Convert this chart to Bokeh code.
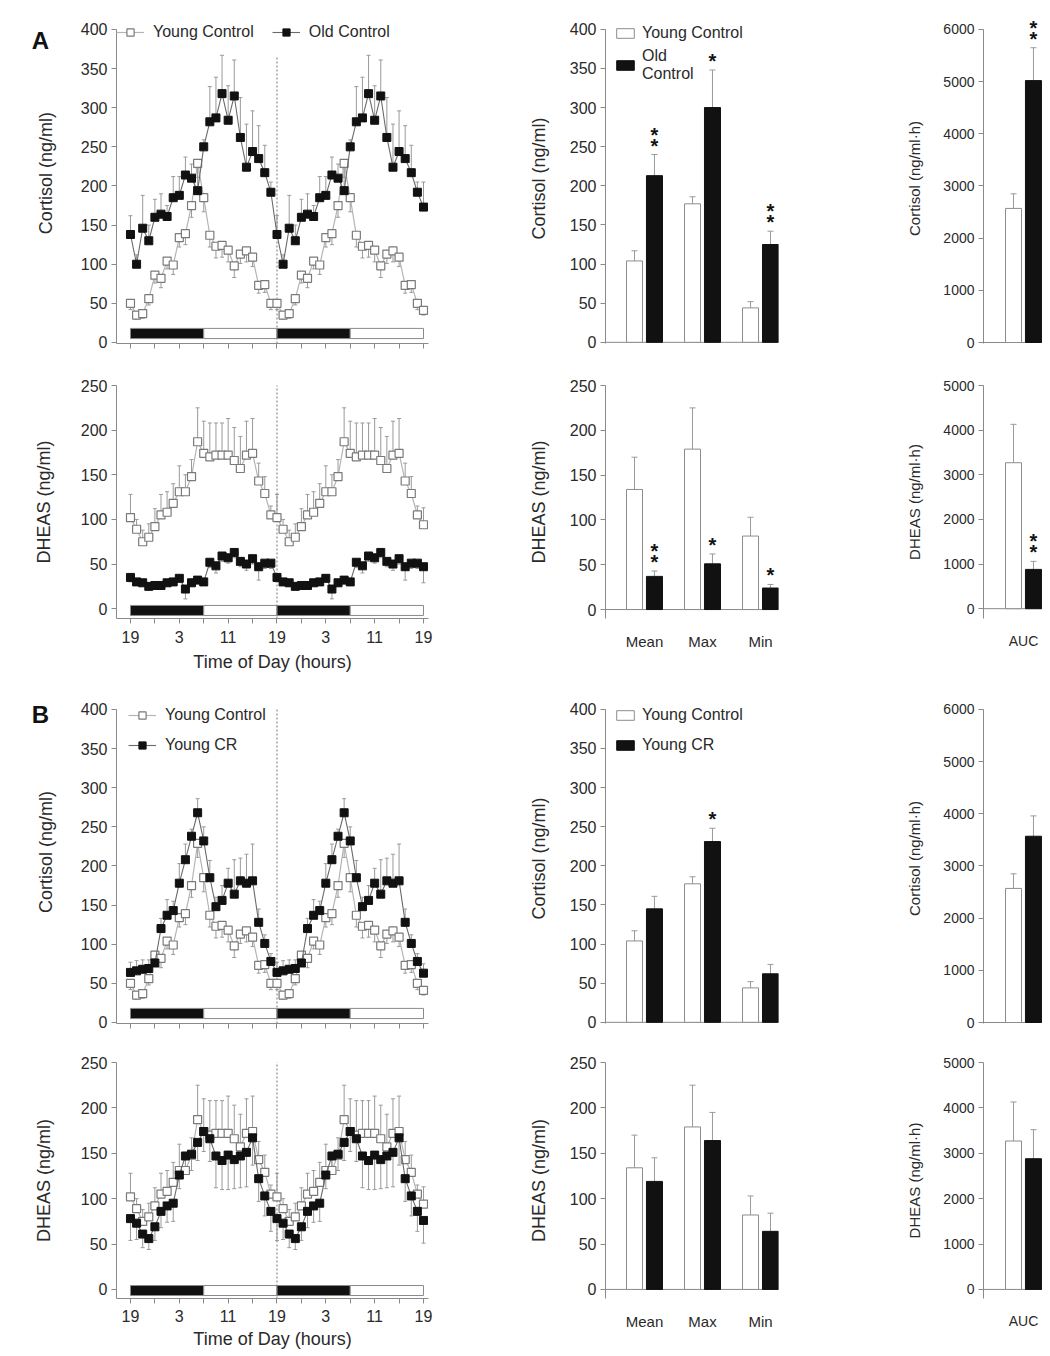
from math import pi
from bokeh.plotting import figure
from bokeh.models import (Range1d, FixedTicker, ColumnDataSource, Whisker, TeeHead,
                          Legend, LegendItem, Label)
from bokeh.core.properties import value
from bokeh.layouts import row, column
from bokeh.embed import file_html
from bokeh.resources import INLINE

# ---------------- data ----------------
# x-axis: hours after 19:00 over a double-plotted 48 h period
tick_hours = [0, 4, 8, 12, 16, 20, 24, 28, 32, 36, 40, 44, 48]
tick_names = ["19", "", "3", "", "11", "", "19", "", "3", "", "11", "", "19"]
light_phases = ["dark", "light", "dark", "light"]
phase_start = [0, 12, 24, 36]
phase_end = [12, 24, 36, 48]

# hourly values of one day (19:00 ... 18:00); the final 19:00 value of the second day listed apart
cort_young_day = [50, 35, 37, 56, 86, 82, 104, 99, 134, 139, 175, 229,
                  185, 137, 123, 124, 118, 98, 113, 117, 109, 73, 74, 50]
cort_young_end = 41
cort_young_sem_day = [8, 5, 6, 8, 10, 12, 10, 12, 12, 14, 15, 18,
                      18, 15, 15, 15, 15, 15, 12, 14, 12, 10, 10, 8]
cort_young_sem_end = 6

cort_old_day = [138, 100, 146, 130, 160, 164, 161, 185, 188, 214, 210, 194,
                250, 282, 287, 318, 284, 315, 262, 224, 244, 235, 217, 192]
cort_old_end = 173
cort_old_sem_day = [24, 12, 42, 20, 23, 26, 14, 27, 24, 23, 18, 28,
                    9, 45, 52, 49, 44, 46, 51, 55, 52, 42, 35, 13]
cort_old_sem_end = 32

cort_cr_day = [64, 66, 68, 69, 76, 120, 137, 143, 178, 208, 238, 268,
               232, 185, 148, 156, 178, 164, 181, 178, 181, 128, 101, 78]
cort_cr_end = 63
cort_cr_sem_day = [13, 13, 12, 11, 10, 13, 20, 12, 25, 20, 9, 18,
                   18, 22, 12, 19, 19, 44, 29, 37, 47, 17, 11, 10]
cort_cr_sem_end = 12

dheas_young_day = [102, 89, 75, 80, 92, 105, 108, 118, 131, 131, 148, 187,
                   174, 170, 172, 172, 172, 166, 157, 172, 174, 143, 129, 105]
dheas_young_end = 94
dheas_young_sem_day = [26, 11, 13, 15, 20, 23, 23, 22, 29, 19, 19, 38,
                       36, 38, 36, 36, 41, 37, 36, 38, 39, 20, 19, 10]
dheas_young_sem_end = 19

dheas_old_day = [35, 30, 29, 25, 26, 26, 29, 30, 34, 22, 29, 32,
                 30, 52, 48, 59, 57, 63, 53, 50, 56, 47, 51, 51]
dheas_old_end = 47
dheas_old_sem_day = [5, 4, 4, 3, 3, 3, 4, 4, 4, 11, 4, 4,
                     4, 6, 8, 6, 6, 6, 6, 7, 6, 15, 6, 6]
dheas_old_sem_end = 18

dheas_cr_day = [78, 73, 61, 56, 69, 86, 92, 95, 126, 147, 149, 162,
                174, 166, 147, 142, 148, 143, 147, 151, 167, 122, 103, 86]
dheas_cr_end = 76
dheas_cr_sem_day = [24, 18, 15, 12, 15, 18, 18, 20, 15, 18, 18, 20,
                    22, 25, 35, 32, 38, 32, 35, 38, 30, 25, 22, 22]
dheas_cr_sem_end = 25

# summary bars
bar_categories = ["Mean", "Max", "Min"]
cort_young_bars = [104, 177, 44]
cort_young_bars_err = [13, 9, 8]
cort_old_bars = [213, 300, 125]
cort_old_bars_err = [27, 48, 17]
cort_cr_bars = [145, 231, 62]
cort_cr_bars_err = [16, 17, 12]
dheas_young_bars = [134, 179, 82]
dheas_young_bars_err = [36, 46, 21]
dheas_old_bars = [37, 51, 24]
dheas_old_bars_err = [6, 11, 4]
dheas_cr_bars = [119, 164, 64]
dheas_cr_bars_err = [26, 31, 20]

auc_category = ["AUC"]
cort_auc_young = [2570]
cort_auc_young_err = [280]
cort_auc_old = [5020]
cort_auc_old_err = [630]
cort_auc_cr = [3570]
cort_auc_cr_err = [390]
dheas_auc_young = [3270]
dheas_auc_young_err = [860]
dheas_auc_old = [880]
dheas_auc_old_err = [180]
dheas_auc_cr = [2880]
dheas_auc_cr_err = [640]

# significance marks (number of asterisks per category)
cort_old_stars = [2, 1, 2]
dheas_old_stars = [2, 1, 1]
cort_cr_stars = [0, 1, 0]
dheas_cr_stars = [0, 0, 0]
cort_auc_old_stars = [2]
dheas_auc_old_stars = [2]
no_stars = [0]

# ---------------- style ----------------
FONT = "Liberation Sans"
TXT = "#2a2a2a"
AXC = "#8a8a8a"
OPEN_EDGE = "#7a7a7a"
DARK = "#111111"
ERR = "#9a9a9a"


def double_plot(day, last):
    return list(day) + list(day) + [last]


def base_fig(width, height, xr, yr, bl, br, bt, bb, ybounds=None):
    p = figure(width=width, height=height, x_range=Range1d(*xr), y_range=Range1d(*yr),
               output_backend="svg", toolbar_location=None,
               min_border_left=bl, min_border_right=br, min_border_top=bt, min_border_bottom=bb)
    p.grid.visible = False
    p.outline_line_color = None
    p.background_fill_color = "white"
    for ax in p.axis:
        ax.axis_line_color = AXC
        ax.major_tick_line_color = AXC
        ax.minor_tick_line_color = None
        ax.major_tick_out = 5
        ax.major_tick_in = 0
        ax.major_label_text_font = FONT
        ax.major_label_text_color = TXT
        ax.axis_label_text_font = FONT
        ax.axis_label_text_font_style = "normal"
        ax.axis_label_text_color = TXT
    if ybounds is not None:
        p.yaxis.bounds = ybounds
    return p


def add_errors(p, x, vals, errs, up, cap=4):
    if up:
        lower = list(vals)
        upper = [v + e for v, e in zip(vals, errs)]
    else:
        lower = [v - e for v, e in zip(vals, errs)]
        upper = list(vals)
    src = ColumnDataSource(dict(x=x, lower=lower, upper=upper))
    head = TeeHead(size=cap, line_color=ERR, line_width=1)
    w = Whisker(base="x", lower="lower", upper="upper", source=src, dimension="height",
                line_color=ERR, line_width=1,
                upper_head=head if up else None, lower_head=None if up else head)
    p.add_layout(w)


def gutter(height, letter, letter_y, ylabel, label_y):
    g = figure(width=64, height=height, x_range=Range1d(0, 64), y_range=Range1d(0, height),
               output_backend="svg", toolbar_location=None, x_axis_location=None,
               y_axis_location=None, min_border=0, min_border_left=0, min_border_right=0,
               min_border_top=0, min_border_bottom=0)
    g.grid.visible = False
    g.outline_line_color = None
    g.text(x=[40], y=[height - letter_y], text=[letter], text_font=value(FONT),
           text_font_style="bold", text_font_size="24px", text_color=DARK,
           text_align="center", text_baseline="middle")
    g.text(x=[45], y=[height - label_y], text=[ylabel], angle=pi / 2, text_font=value(FONT),
           text_font_size="18px", text_color=TXT, text_align="center", text_baseline="middle")
    return g


def ts_panel(width, height, bl, bt, bb, yr, ytop, ylabel, series, ld_bottom, ld_top,
             divider_top, show_labels, tick_std=7, title_std=6):
    p = base_fig(width, height, (-2.29, 48.82), yr, bl, 12, bt, bb, ybounds=(yr[0], ytop))
    x = list(range(len(series[0]["vals"])))
    # light/dark bar
    p.quad(left=phase_start, right=phase_end, bottom=ld_bottom, top=ld_top,
           fill_color=[DARK if ph == "dark" else "white" for ph in light_phases],
           line_color=AXC, line_width=1)
    # day divider
    p.segment(x0=[24], y0=[yr[0]], x1=[24], y1=[divider_top], line_color="#777777",
              line_dash="2 2", line_width=1)
    renderers = []
    for s in series:
        add_errors(p, x, s["vals"], s["errs"], s["up"])
    for s in series:
        if s["open"]:
            ln = p.line(x, s["vals"], line_color="#b4b4b4", line_width=1.2)
            sc = p.scatter(x, s["vals"], marker="square", size=8, fill_color="white",
                           line_color=OPEN_EDGE, line_width=1.2)
        else:
            ln = p.line(x, s["vals"], line_color="#6a6a6a", line_width=1.1)
            sc = p.scatter(x, s["vals"], marker="square", size=8, fill_color=DARK,
                           line_color=DARK)
        renderers.append((s["name"], [ln, sc]))
    p.yaxis.ticker = FixedTicker(ticks=list(range(0, ytop + 1, 50)))
    p.yaxis.major_label_text_font_size = "16px"
    p.yaxis.major_label_standoff = 4
    if ylabel:
        p.yaxis.axis_label = ylabel
        p.yaxis.axis_label_text_font_size = "18px"
        p.yaxis.axis_label_standoff = 24
    p.xaxis.ticker = FixedTicker(ticks=tick_hours)
    if show_labels:
        p.xaxis.major_label_overrides = {h: n for h, n in zip(tick_hours, tick_names)}
        p.xaxis.major_label_text_font_size = "16px"
        p.xaxis.major_label_standoff = tick_std
        p.xaxis.axis_label = "Time of Day (hours)"
        p.xaxis.axis_label_text_font_size = "18px"
        p.xaxis.axis_label_standoff = title_std
    else:
        p.xaxis.major_label_overrides = {h: "" for h in tick_hours}
        p.xaxis.major_label_text_font_size = "1px"
        p.xaxis.major_label_standoff = 0
    return p, renderers


def ts_legend(p, renderers, loc, orientation, spacing):
    lg = Legend(items=[LegendItem(label=n, renderers=r) for n, r in renderers],
                location=loc, orientation=orientation, spacing=spacing,
                glyph_width=28, glyph_height=18, label_height=18, label_standoff=9,
                padding=0, margin=0, border_line_alpha=0, background_fill_alpha=0,
                label_text_font=FONT, label_text_font_size="16px", label_text_color=TXT)
    p.add_layout(lg)


def bar_panel(width, height, xr, yr, ytop, bl, br, bt, bb, yticks, ylabel, label_std,
              tick_size, label_size, cats, young, young_err, other, other_err, stars,
              show_x, x_standoff, x_size):
    p = base_fig(width, height, xr, yr, bl, br, bt, bb, ybounds=(yr[0], ytop))
    pos = list(range(len(cats)))
    xy = [g - 0.172 for g in pos]
    xo = [g + 0.172 for g in pos]
    p.segment(x0=[xr[0]], y0=[0], x1=[xr[1]], y1=[0], line_color=AXC, line_width=1)
    add_errors(p, xy, young, young_err, True, cap=6)
    add_errors(p, xo, other, other_err, True, cap=6)
    ry = p.vbar(x=xy, top=young, bottom=0, width=0.276, fill_color="white",
                line_color="#8c8c8c", line_width=1)
    ro = p.vbar(x=xo, top=other, bottom=0, width=0.276, fill_color=DARK, line_color=DARK)
    for xx, v, e, n in zip(xo, other, other_err, stars):
        for k in range(n):
            p.add_layout(Label(x=xx, y=v + e, y_offset=9 + 11 * k, text="*",
                               text_font=FONT, text_font_style="bold", text_font_size="20px",
                               text_color=DARK, text_align="center", text_baseline="middle"))
    p.yaxis.ticker = FixedTicker(ticks=yticks)
    p.yaxis.major_label_text_font_size = tick_size
    p.yaxis.major_label_standoff = 4
    p.yaxis.axis_label = ylabel
    p.yaxis.axis_label_text_font_size = label_size
    p.yaxis.axis_label_standoff = label_std
    if show_x:
        p.xaxis.ticker = FixedTicker(ticks=pos)
        p.xaxis.major_label_overrides = {g: c for g, c in zip(pos, cats)}
        p.xaxis.axis_line_color = None
        p.xaxis.major_tick_line_color = None
        p.xaxis.major_tick_out = 0
        p.xaxis.major_label_text_font_size = x_size
        p.xaxis.major_label_standoff = x_standoff
    else:
        p.xaxis.visible = False
    return p, ry, ro


def bar_legend(p, items, loc, spacing):
    lg = Legend(items=[LegendItem(label=n, renderers=[r]) for n, r in items],
                location=loc, orientation="vertical", spacing=spacing,
                glyph_width=22, glyph_height=12, label_height=18, label_standoff=6,
                padding=0, margin=0, border_line_alpha=0, background_fill_alpha=0,
                label_text_font=FONT, label_text_font_size="16px", label_text_color=TXT,
                label_text_line_height=0.95)
    p.add_layout(lg)


cort_ticks = list(range(0, 401, 50))
dheas_ticks = list(range(0, 251, 50))
cort_auc_ticks = list(range(0, 6001, 1000))
dheas_auc_ticks = list(range(0, 5001, 1000))

young_c = dict(name="Young Control", open=True, up=False,
               vals=double_plot(cort_young_day, cort_young_end),
               errs=double_plot(cort_young_sem_day, cort_young_sem_end))
old_c = dict(name="Old Control", open=False, up=True,
             vals=double_plot(cort_old_day, cort_old_end),
             errs=double_plot(cort_old_sem_day, cort_old_sem_end))
cr_c = dict(name="Young CR", open=False, up=True,
            vals=double_plot(cort_cr_day, cort_cr_end),
            errs=double_plot(cort_cr_sem_day, cort_cr_sem_end))
young_d = dict(name="Young Control", open=True, up=True,
               vals=double_plot(dheas_young_day, dheas_young_end),
               errs=double_plot(dheas_young_sem_day, dheas_young_sem_end))
old_d = dict(name="Old Control", open=False, up=False,
             vals=double_plot(dheas_old_day, dheas_old_end),
             errs=double_plot(dheas_old_sem_day, dheas_old_sem_end))
cr_d = dict(name="Young CR", open=False, up=False,
            vals=double_plot(dheas_cr_day, dheas_cr_end),
            errs=double_plot(dheas_cr_sem_day, dheas_cr_sem_end))

# ---------------- row 1: A cortisol ----------------
H1 = 368
g1 = gutter(H1, "A", 30, "Cortisol (ng/ml)", 178)
ts1, r1 = ts_panel(376, H1, 52, 13, 25, (-1.3, 420.4), 400, None, [young_c, old_c],
                   5, 18, 365, False)
ts_legend(ts1, r1, (0, 302), "horizontal", 18)
b1, b1y, b1o = bar_panel(350, H1, (-0.672, 2.31), (-1.5, 420.2), 400, 165, 12, 13, 25,
                         cort_ticks, "Cortisol (ng/ml)", 18, "16px", "18px", bar_categories,
                         cort_young_bars, cort_young_bars_err, cort_old_bars, cort_old_bars_err,
                         cort_old_stars, False, 0, "15px")
bar_legend(b1, [("Young Control", b1y), ("Old\nControl", b1o)], (9, 260), 5)
a1, _, _ = bar_panel(252, H1, (-0.69, 0.328), (-19, 6306), 6000, 193, 0, 13, 25,
                     cort_auc_ticks, "Cortisol (ng/ml·h)", 17, "14px", "15px", auc_category,
                     cort_auc_young, cort_auc_young_err, cort_auc_old, cort_auc_old_err,
                     cort_auc_old_stars, False, 0, "14px")

# ---------------- row 2: A DHEAS ----------------
H2 = 322
ts2, _ = ts_panel(440, H2, 116, 17, 72, (-11, 250), 250, "DHEAS (ng/ml)", [young_d, old_d],
                  -7.6, 3.6, 254, True, 7, 6)
b2, _, _ = bar_panel(350, H2, (-0.672, 2.31), (-10, 250), 250, 165, 12, 17, 72, dheas_ticks,
                     "DHEAS (ng/ml)", 18, "16px", "18px", bar_categories,
                     dheas_young_bars, dheas_young_bars_err, dheas_old_bars, dheas_old_bars_err,
                     dheas_old_stars, True, 14, "15px")
a2, _, _ = bar_panel(252, H2, (-0.69, 0.328), (-220, 5000), 5000, 193, 0, 17, 72,
                     dheas_auc_ticks, "DHEAS (ng/ml·h)", 17, "14px", "15px", auc_category,
                     dheas_auc_young, dheas_auc_young_err, dheas_auc_old, dheas_auc_old_err,
                     dheas_auc_old_stars, True, 14, "14px")

# ---------------- row 3: B cortisol ----------------
H3 = 350
g3 = gutter(H3, "B", 22, "Cortisol (ng/ml)", 168)
ts3, r3 = ts_panel(376, H3, 52, 3, 17, (-1.3, 420.4), 400, None, [young_c, cr_c],
                   5, 18, 400, False)
ts_legend(ts3, r3, (12, 269), "vertical", 12)
b3, b3y, b3o = bar_panel(350, H3, (-0.672, 2.31), (-1.5, 420.2), 400, 165, 12, 3, 17,
                         cort_ticks, "Cortisol (ng/ml)", 18, "16px", "18px", bar_categories,
                         cort_young_bars, cort_young_bars_err, cort_cr_bars, cort_cr_bars_err,
                         cort_cr_stars, False, 0, "15px")
bar_legend(b3, [("Young Control", b3y), ("Young CR", b3o)], (9, 269), 12)
a3, _, _ = bar_panel(252, H3, (-0.69, 0.328), (-19, 6306), 6000, 193, 0, 3, 17,
                     cort_auc_ticks, "Cortisol (ng/ml·h)", 17, "14px", "15px", auc_category,
                     cort_auc_young, cort_auc_young_err, cort_auc_cr, cort_auc_cr_err,
                     no_stars, False, 0, "14px")

# ---------------- row 4: B DHEAS ----------------
H4 = 314
ts4, _ = ts_panel(440, H4, 116, 22, 56, (-10, 250), 250, "DHEAS (ng/ml)", [young_d, cr_d],
                  -6.7, 4.3, 254, True, 6, 4)
b4, _, _ = bar_panel(350, H4, (-0.672, 2.31), (-10, 250), 250, 165, 12, 22, 56, dheas_ticks,
                     "DHEAS (ng/ml)", 18, "16px", "18px", bar_categories,
                     dheas_young_bars, dheas_young_bars_err, dheas_cr_bars, dheas_cr_bars_err,
                     dheas_cr_stars, True, 14, "15px")
a4, _, _ = bar_panel(252, H4, (-0.69, 0.328), (-200, 5000), 5000, 193, 0, 22, 56,
                     dheas_auc_ticks, "DHEAS (ng/ml·h)", 17, "14px", "15px", auc_category,
                     dheas_auc_young, dheas_auc_young_err, dheas_auc_cr, dheas_auc_cr_err,
                     no_stars, True, 14, "14px")

layout = column(row(g1, ts1, b1, a1), row(ts2, b2, a2), row(g3, ts3, b3, a3), row(ts4, b4, a4))

open("out.html", "w").write(file_html(layout, INLINE))
